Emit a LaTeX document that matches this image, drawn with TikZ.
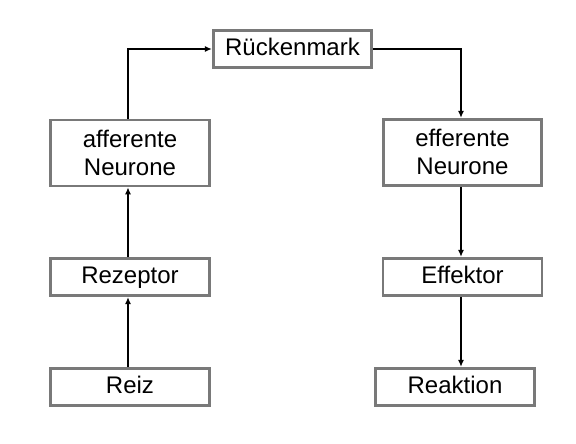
\documentclass[tikz,border=0pt]{standalone}
\usepackage{fontspec}
\setmainfont{Liberation Sans}
\usetikzlibrary{arrows.meta}
\begin{document}
\begin{tikzpicture}[x=1pt,y=1pt,
  box/.style={draw=gray!95!black,line width=2.6pt,fill=white,inner sep=0pt,
    minimum height=37.5pt,minimum width=159pt,align=center,
    font=\fontsize{24}{28}\selectfont,text height=17pt,text depth=3pt},
  twobox/.style={box,minimum height=66pt,text height=45pt,text depth=0pt},
  conn/.style={line width=2pt,-{Latex[length=7pt,width=6pt]}}]
\useasboundingbox (0,0) rectangle (576,444);
\node[box,minimum width=158.5pt] (rm) at (292.5,395) {Rückenmark};
\node[twobox] (aff) at (130,291) {afferente\\Neurone};
\node[twobox,minimum height=66.5pt,minimum width=158.5pt] (eff) at (462.5,291.5) {efferente\\Neurone};
\node[box] (rez) at (130,167) {Rezeptor};
\node[box] (ekt) at (462.5,167) {Effektor};
\node[box] (reiz) at (130,57) {Reiz};
\node[box] (rea) at (455,57) {Reaktion};
\draw[conn] ([xshift=-2pt]aff.north) |- (rm.west);
\draw[conn] (rm.east) -| ([xshift=-1.5pt]eff.north);
\draw[conn] ([xshift=-2pt]rez.north) -- ([xshift=-2pt]aff.south);
\draw[conn] ([xshift=-2pt]reiz.north) -- ([xshift=-2pt]rez.south);
\draw[conn] ([xshift=-1.5pt]eff.south) -- ([xshift=-1.5pt]ekt.north);
\draw[conn] ([xshift=-1.5pt]ekt.south) -- ([xshift=-1.5pt]ekt.south |- rea.north);
\end{tikzpicture}
\end{document}
